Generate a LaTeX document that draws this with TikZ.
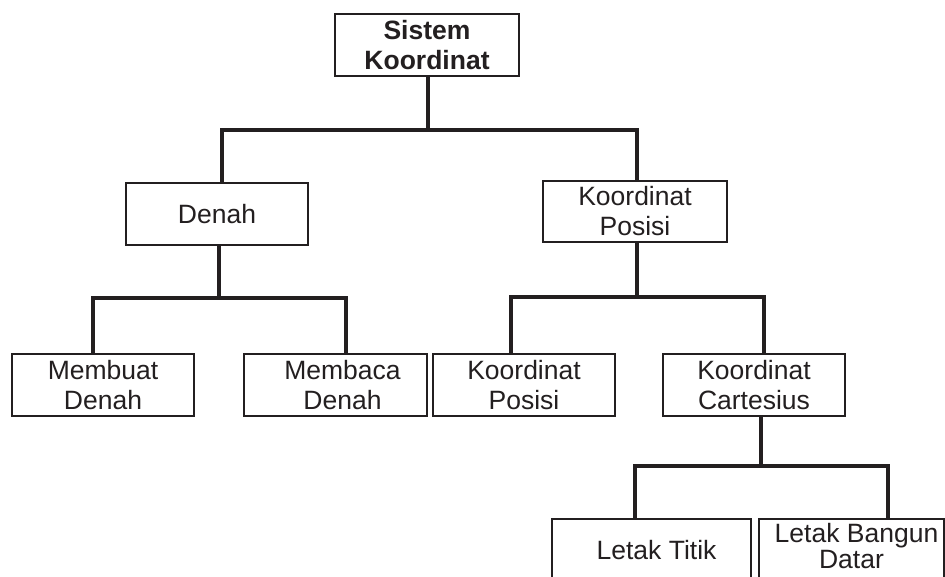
\documentclass[tikz,border=0pt]{standalone}
\usepackage{fontspec}
\setmainfont{Liberation Sans}
\usepackage{xcolor}
\usetikzlibrary{positioning,calc}
\definecolor{ink}{HTML}{231F20}

\begin{document}
\begin{tikzpicture}[
  x=1pt, y=-1pt,
  font=\fontsize{26.5}{30}\selectfont,
  box/.style={draw=ink, line width=2.3pt, fill=white, align=center, inner sep=0pt,
    minimum width=182pt, minimum height=62pt, text=ink},
  conn/.style={draw=ink, line width=3.2pt}
]
\useasboundingbox (0,0) rectangle (945,576);
\clip (0,0) rectangle (945,576);
\fill[white] (0,0) rectangle (945,576);
% levels
\node[box, minimum width=184pt] (sk) at (427,45) {\bfseries Sistem\\\bfseries Koordinat};
\node[box] (denah) at (217,214) {Denah};
\node[box, minimum width=184pt, minimum height=61pt] (kp) at (635,211.5) {Koordinat\\Posisi};
\node[box] (mbuat) at (103,385) {Membuat\\Denah};
\node[box, minimum width=183pt] (mbaca) at (335.5,385) {\hspace*{14pt}Membaca\\\hspace*{14pt}Denah};
\node[box] (kpos) at (524,385) {Koordinat\\Posisi};
\node[box] (kcart) at (754,385) {Koordinat\\Cartesius};
\node[box, minimum width=199pt] (ltitik) at (651.5,550) {\hspace*{10pt}Letak Titik};
\node[box, minimum width=185pt] (lbangun) at (851.5,550) {\hspace*{10pt}Letak Bangun\\[-4pt]Datar\rule[-9pt]{0pt}{9pt}};
% junctions
\coordinate (a1) at (222,130);
\coordinate (a2) at (637,130);
\coordinate (b1) at (93,298);
\coordinate (b2) at (346,298);
\coordinate (c1) at (511,297);
\coordinate (c2) at (764,297);
\coordinate (e1) at (635,466);
\coordinate (e2) at (888,466);
% connectors
\draw[conn] ([xshift=1pt]sk.south) -- ([xshift=1pt]sk.south |- a1);
\draw[conn] (denah.north -| a1) -- (a1) -- (a2) -- (kp.north -| a2);
\draw[conn] ([xshift=2pt]denah.south) -- ([xshift=2pt]denah.south |- b1);
\draw[conn] (mbuat.north -| b1) -- (b1) -- (b2) -- (mbaca.north -| b2);
\draw[conn] ([xshift=2pt]kp.south) -- ([xshift=2pt]kp.south |- c1);
\draw[conn] (kpos.north -| c1) -- (c1) -- (c2) -- (kcart.north -| c2);
\draw[conn] ([xshift=7pt]kcart.south) -- ([xshift=7pt]kcart.south |- e1);
\draw[conn] (ltitik.north -| e1) -- (e1) -- (e2) -- (lbangun.north -| e2);
\end{tikzpicture}
\end{document}
